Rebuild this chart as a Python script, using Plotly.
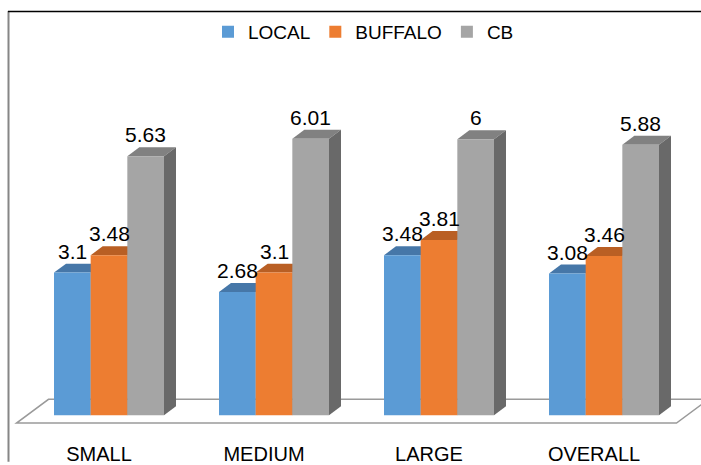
import plotly.graph_objects as go

# ---------------- data ----------------
categories = ["SMALL", "MEDIUM", "LARGE", "OVERALL"]
series_names = ["LOCAL", "BUFFALO", "CB"]
local_vals = [3.1, 2.68, 3.48, 3.08]
buffalo_vals = [3.48, 3.1, 3.81, 3.46]
cb_vals = [5.63, 6.01, 6.0, 5.88]

# ---------------- style ----------------
front_colors = ["#5B9BD5", "#ED7D31", "#A5A5A5"]
top_colors = ["#4677A8", "#B95F24", "#818181"]
side_colors = ["#3F6A95", "#A35420", "#696969"]
FONT = "Liberation Sans, Arial, sans-serif"

W, H = 701, 465
MB = 22                      # bottom margin (room for category labels)
PX_CAT = 165.0               # pixels per category
PX_UNIT = 46.3               # pixels per value unit
X0_PX = 109.0                # pixel x of first category centre
Y0_PX = 418.0                # pixel y of value 0
PLOT_H = H - MB

x_range = [-X0_PX / PX_CAT, (W - X0_PX) / PX_CAT]
y_range = [-(PLOT_H - Y0_PX) / PX_UNIT, Y0_PX / PX_UNIT]

# 3D depth offsets (in axis units)
DX = 12 / PX_CAT
DY = 9 / PX_UNIT
# floor geometry
F_SHIFT = 10 / PX_CAT        # floor front edge shift left from bar front
F_DX = 32 / PX_CAT
F_FRONT = -8 / PX_UNIT
F_BACK = 16 / PX_UNIT

bw = 2 / 9
offsets = [-1 / 3, -1 / 9, 1 / 9]
all_vals = [local_vals, buffalo_vals, cb_vals]
xs = list(range(len(categories)))

fig = go.Figure()
for k, (name, vals) in enumerate(zip(series_names, all_vals)):
    fig.add_trace(go.Bar(
        x=xs, y=vals, name=name,
        width=[bw] * len(xs), offset=[offsets[k]] * len(xs),
        marker=dict(color=front_colors[k], line=dict(width=0)),
        customdata=categories,
        hovertemplate="%{customdata}<br>" + name + ": %{y}<extra></extra>",
    ))

shapes = []
# floor
n = len(categories)
fx0 = -0.5 - F_SHIFT
fx1 = n - 0.5 - F_SHIFT
shapes.append(dict(
    type="path", xref="x", yref="y", layer="below",
    path=(f"M{fx0},{F_FRONT} L{fx1},{F_FRONT} L{fx1 + F_DX},{F_BACK} "
          f"L{fx0 + F_DX},{F_BACK} Z"),
    fillcolor="white", line=dict(color="#9A9A9A", width=1.5),
))
annotations = []
for i in xs:
    for k, vals in enumerate(all_vals):
        v = vals[i]
        xl = i + offsets[k]
        xr = xl + bw
        shapes.append(dict(
            type="path", xref="x", yref="y", layer="below",
            path=(f"M{xl},{v} L{xr},{v} L{xr + DX},{v + DY} L{xl + DX},{v + DY} Z"),
            fillcolor=top_colors[k], line=dict(width=0),
        ))
        shapes.append(dict(
            type="path", xref="x", yref="y", layer="below",
            path=(f"M{xr},0 L{xr + DX},{DY} L{xr + DX},{v + DY} L{xr},{v} Z"),
            fillcolor=side_colors[k], line=dict(width=0),
        ))
        annotations.append(dict(
            x=xl + bw / 2, y=v, xref="x", yref="y",
            text=f"{v:g}", showarrow=False, yanchor="bottom", yshift=8,
            font=dict(family=FONT, size=21, color="#000000"),
        ))

# chart-area border (left grey, top black)
shapes.append(dict(type="line", xref="paper", yref="paper",
                   x0=8.5 / W, x1=8.5 / W, y0=(PLOT_H - 11) / PLOT_H, y1=-MB / PLOT_H,
                   line=dict(color="#868686", width=2), layer="above"))
shapes.append(dict(type="line", xref="paper", yref="paper",
                   x0=8 / W, x1=1.0, y0=(PLOT_H - 11.5) / PLOT_H, y1=(PLOT_H - 11.5) / PLOT_H,
                   line=dict(color="#000000", width=1.5), layer="above"))

fig.update_layout(
    width=W, height=H,
    margin=dict(l=0, r=0, t=0, b=MB),
    paper_bgcolor="white", plot_bgcolor="white",
    barmode="overlay",
    font=dict(family=FONT, color="#000000"),
    shapes=shapes, annotations=annotations,
    showlegend=True,
    legend=dict(orientation="h", x=0.5 + 13 / W, xanchor="center",
                y=(PLOT_H - 32) / PLOT_H, yanchor="middle",
                font=dict(family=FONT, size=19, color="#000000"),
                bgcolor="rgba(0,0,0,0)"),
    xaxis=dict(range=x_range, tickmode="array",
               tickvals=[i - F_SHIFT for i in xs], ticktext=categories,
               tickfont=dict(family=FONT, size=20, color="#000000"),
               showgrid=False, zeroline=False, showline=False, ticks="",
               fixedrange=True),
    yaxis=dict(range=y_range, visible=False, showgrid=False, zeroline=False,
               fixedrange=True),
)

fig.write_html("out.html")
